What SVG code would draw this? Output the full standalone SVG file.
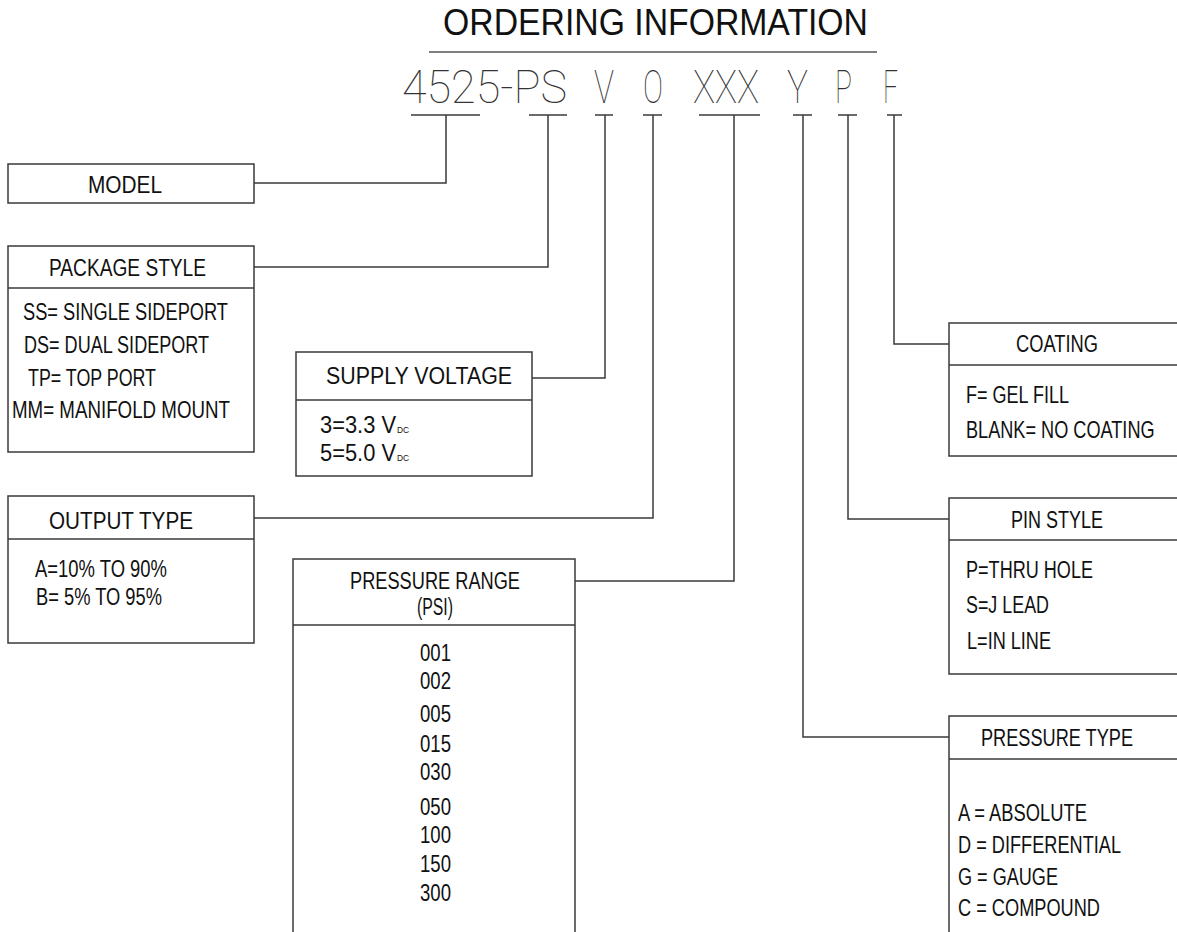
<svg xmlns="http://www.w3.org/2000/svg" width="1177" height="932" viewBox="0 0 1177 932">
<style>
.bx{fill:none;stroke:#3a3a3a;stroke-width:1.5}
.cn{fill:none;stroke:#3a3a3a;stroke-width:1.5}
.t{font-family:"Liberation Sans",Arial,sans-serif;font-size:23.5px;fill:#111}
.c{text-anchor:middle}
.code{font-family:Roboto,Lato,"Liberation Sans",sans-serif;font-weight:100;font-size:46px;fill:#333}
.sub{font-size:9px}
</style>
<rect width="1177" height="932" fill="#fff"/>
<g id="title">
<text class="t" x="443" y="35" style="font-size:36px" textLength="425" lengthAdjust="spacingAndGlyphs">ORDERING INFORMATION</text>
<line x1="429" y1="52" x2="877" y2="52" stroke="#555" stroke-width="1.5"/>
</g>
<g id="code">
<text class="code" x="402" y="103" textLength="165" lengthAdjust="spacingAndGlyphs">4525-PS</text>
<text class="code" x="594" y="103" textLength="20" lengthAdjust="spacingAndGlyphs">V</text>
<text class="code" x="643" y="103" textLength="20" lengthAdjust="spacingAndGlyphs">O</text>
<text class="code" x="693" y="103" textLength="66" lengthAdjust="spacingAndGlyphs">XXX</text>
<text class="code" x="787" y="103" textLength="21" lengthAdjust="spacingAndGlyphs">Y</text>
<text class="code" x="835" y="103" textLength="17" lengthAdjust="spacingAndGlyphs">P</text>
<text class="code" x="883" y="103" textLength="15" lengthAdjust="spacingAndGlyphs">F</text>
</g>
<g id="connectors">
<line class="cn" x1="411" y1="115" x2="480" y2="115"/>
<polyline class="cn" points="446,115 446,183 254,183"/>
<line class="cn" x1="529" y1="115" x2="567" y2="115"/>
<polyline class="cn" points="548,115 548,267 254,267"/>
<line class="cn" x1="595" y1="115" x2="613" y2="115"/>
<polyline class="cn" points="605,115 605,378 532,378"/>
<line class="cn" x1="643" y1="115" x2="662" y2="115"/>
<polyline class="cn" points="653,115 653,518 254,518"/>
<line class="cn" x1="699" y1="115" x2="760" y2="115"/>
<polyline class="cn" points="734,115 734,581 575,581"/>
<line class="cn" x1="793" y1="115" x2="812" y2="115"/>
<polyline class="cn" points="803,115 803,737 949,737"/>
<line class="cn" x1="838" y1="115" x2="857" y2="115"/>
<polyline class="cn" points="848,115 848,519 949,519"/>
<line class="cn" x1="887" y1="115" x2="902" y2="115"/>
<polyline class="cn" points="894,115 894,344 949,344"/>
</g>
<g id="model">
<rect class="bx" x="8" y="164" width="246" height="39"/>
<text class="t" x="88" y="193" textLength="74" lengthAdjust="spacingAndGlyphs">MODEL</text>
</g>
<g id="package-style">
<rect class="bx" x="8" y="246" width="246" height="206"/>
<line class="bx" x1="8" y1="288" x2="254" y2="288"/>
<text class="t" x="49" y="276" textLength="157" lengthAdjust="spacingAndGlyphs">PACKAGE STYLE</text>
<text class="t" x="23" y="320" textLength="205" lengthAdjust="spacingAndGlyphs">SS= SINGLE SIDEPORT</text>
<text class="t" x="24" y="353" textLength="185" lengthAdjust="spacingAndGlyphs">DS= DUAL SIDEPORT</text>
<text class="t" x="28" y="386" textLength="128" lengthAdjust="spacingAndGlyphs">TP= TOP PORT</text>
<text class="t" x="12" y="418" textLength="218" lengthAdjust="spacingAndGlyphs">MM= MANIFOLD MOUNT</text>
</g>
<g id="supply-voltage">
<rect class="bx" x="296" y="352" width="236" height="124"/>
<line class="bx" x1="296" y1="400" x2="532" y2="400"/>
<text class="t" x="326" y="384" textLength="186" lengthAdjust="spacingAndGlyphs">SUPPLY VOLTAGE</text>
<text class="t" x="320" y="433" textLength="89" lengthAdjust="spacingAndGlyphs">3=3.3 V<tspan class="sub" dx="1">DC</tspan></text>
<text class="t" x="320" y="461" textLength="89" lengthAdjust="spacingAndGlyphs">5=5.0 V<tspan class="sub" dx="1">DC</tspan></text>
</g>
<g id="output-type">
<rect class="bx" x="8" y="496" width="246" height="147"/>
<line class="bx" x1="8" y1="539" x2="254" y2="539"/>
<text class="t" x="49" y="529" textLength="144" lengthAdjust="spacingAndGlyphs">OUTPUT TYPE</text>
<text class="t" x="35" y="577" textLength="132" lengthAdjust="spacingAndGlyphs">A=10% TO 90%</text>
<text class="t" x="36" y="605" textLength="126" lengthAdjust="spacingAndGlyphs">B= 5% TO 95%</text>
</g>
<g id="pressure-range">
<rect class="bx" x="293" y="559" width="282" height="400"/>
<line class="bx" x1="293" y1="625" x2="575" y2="625"/>
<text class="t" x="350" y="589" textLength="170" lengthAdjust="spacingAndGlyphs">PRESSURE RANGE</text>
<text class="t" x="417" y="615" textLength="36" lengthAdjust="spacingAndGlyphs">(PSI)</text>
<text class="t" x="420" y="661" textLength="31" lengthAdjust="spacingAndGlyphs">001</text>
<text class="t" x="420" y="689" textLength="31" lengthAdjust="spacingAndGlyphs">002</text>
<text class="t" x="420" y="722" textLength="31" lengthAdjust="spacingAndGlyphs">005</text>
<text class="t" x="420" y="752" textLength="31" lengthAdjust="spacingAndGlyphs">015</text>
<text class="t" x="420" y="780" textLength="31" lengthAdjust="spacingAndGlyphs">030</text>
<text class="t" x="420" y="815" textLength="31" lengthAdjust="spacingAndGlyphs">050</text>
<text class="t" x="420" y="843" textLength="31" lengthAdjust="spacingAndGlyphs">100</text>
<text class="t" x="420" y="872" textLength="31" lengthAdjust="spacingAndGlyphs">150</text>
<text class="t" x="420" y="901" textLength="31" lengthAdjust="spacingAndGlyphs">300</text>
</g>
<g id="coating">
<rect class="bx" x="949" y="323" width="250" height="133"/>
<line class="bx" x1="949" y1="365" x2="1199" y2="365"/>
<text class="t" x="1016" y="352" textLength="82" lengthAdjust="spacingAndGlyphs">COATING</text>
<text class="t" x="966" y="403" textLength="103" lengthAdjust="spacingAndGlyphs">F= GEL FILL</text>
<text class="t" transform="translate(966,438) scale(0.772,1)" x="0" y="0">BLANK= NO COATING</text>
</g>
<g id="pin-style">
<rect class="bx" x="949" y="498" width="250" height="176"/>
<line class="bx" x1="949" y1="540" x2="1199" y2="540"/>
<text class="t" x="1011" y="528" textLength="92" lengthAdjust="spacingAndGlyphs">PIN STYLE</text>
<text class="t" x="966" y="578" textLength="127" lengthAdjust="spacingAndGlyphs">P=THRU HOLE</text>
<text class="t" x="966" y="613" textLength="83" lengthAdjust="spacingAndGlyphs">S=J LEAD</text>
<text class="t" x="967" y="649" textLength="84" lengthAdjust="spacingAndGlyphs">L=IN LINE</text>
</g>
<g id="pressure-type">
<rect class="bx" x="949" y="716" width="250" height="250"/>
<line class="bx" x1="949" y1="759" x2="1199" y2="759"/>
<text class="t" x="981" y="746" textLength="152" lengthAdjust="spacingAndGlyphs">PRESSURE TYPE</text>
<text class="t" x="958" y="821" textLength="129" lengthAdjust="spacingAndGlyphs">A = ABSOLUTE</text>
<text class="t" x="958" y="853" textLength="163" lengthAdjust="spacingAndGlyphs">D = DIFFERENTIAL</text>
<text class="t" x="958" y="885" textLength="100" lengthAdjust="spacingAndGlyphs">G = GAUGE</text>
<text class="t" x="958" y="916" textLength="142" lengthAdjust="spacingAndGlyphs">C = COMPOUND</text>
</g>
</svg>
